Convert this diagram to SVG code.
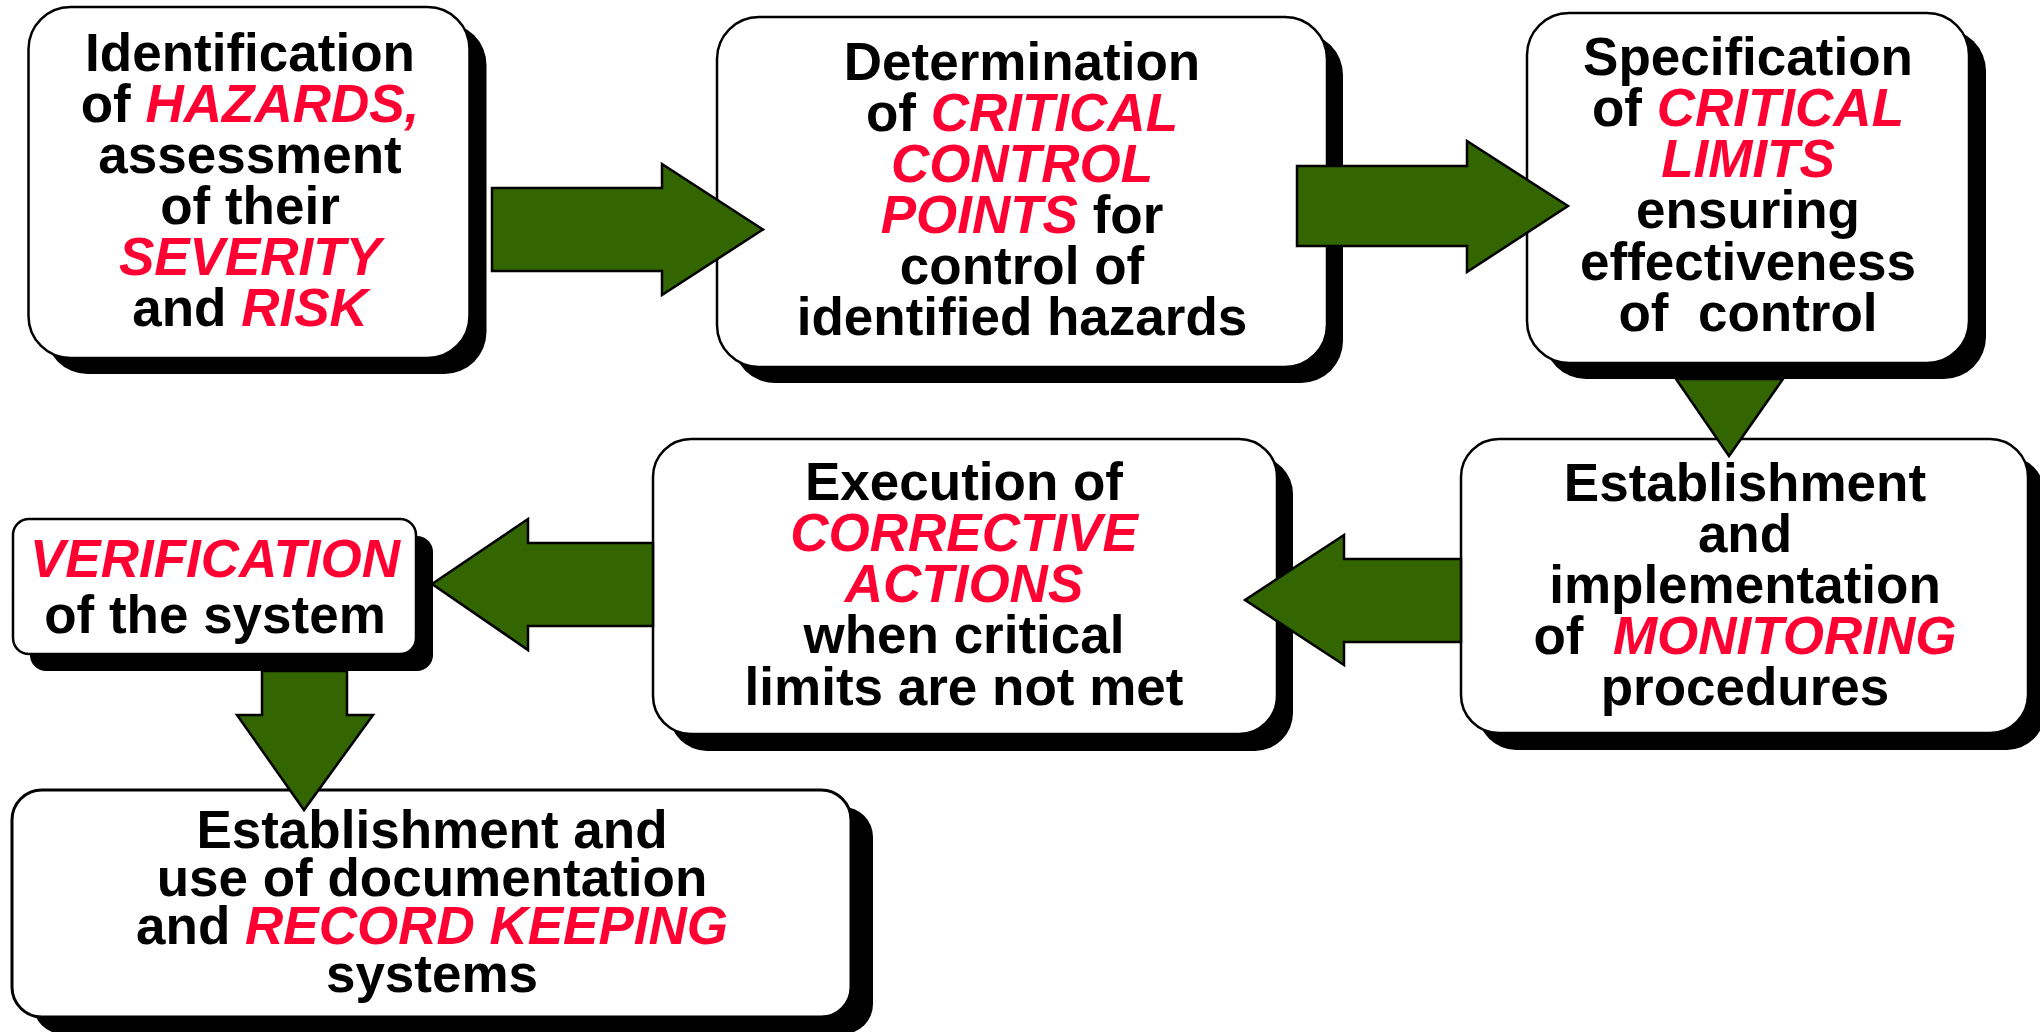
<svg xmlns="http://www.w3.org/2000/svg" width="2040" height="1032" viewBox="0 0 2040 1032">
  <style>
    .bg { fill: #ffffff; }
    .shadow { fill: #000000; }
    .box { fill: #ffffff; stroke: #000000; stroke-width: 2.5; }
    .t { font-family: "Liberation Sans", Arial, Helvetica, sans-serif; font-weight: bold; font-size: 53px; fill: #000000; text-anchor: middle; }
    .r { fill: #FF0033; font-style: italic; }
    .arrow { fill: #336600; stroke: #000000; stroke-width: 2.5; stroke-linejoin: miter; }
  </style>
  <rect class="bg" x="0" y="0" width="2040" height="1032"/>

  <g id="node-hazards">
    <rect class="shadow" x="45.5" y="23" width="441" height="351" rx="42"/>
    <rect class="box" x="28.5" y="7" width="441" height="351" rx="42"/>
    <text class="t"><tspan x="250" y="71">Identification</tspan><tspan x="250" y="122">of <tspan class="r">HAZARDS,</tspan></tspan><tspan x="250" y="173">assessment</tspan><tspan x="250" y="224">of their</tspan><tspan x="250" y="275" class="r">SEVERITY</tspan><tspan x="250" y="326">and <tspan class="r">RISK</tspan></tspan></text>
  </g>

  <g id="node-ccp">
    <rect class="shadow" x="733" y="33" width="610" height="350" rx="42"/>
    <rect class="box" x="717" y="17" width="610" height="350" rx="42"/>
    <text class="t"><tspan x="1022" y="80">Determination</tspan><tspan x="1022" y="131">of <tspan class="r">CRITICAL</tspan></tspan><tspan x="1022" y="182" class="r">CONTROL</tspan><tspan x="1022" y="233"><tspan class="r">POINTS</tspan> for</tspan><tspan x="1022" y="284">control of</tspan><tspan x="1022" y="335">identified hazards</tspan></text>
  </g>

  <g id="node-limits">
    <rect class="shadow" x="1544" y="29" width="442" height="350" rx="42"/>
    <rect class="box" x="1527" y="13" width="442" height="350" rx="42"/>
    <text class="t" xml:space="preserve"><tspan x="1748" y="75">Specification</tspan><tspan x="1748" y="126">of <tspan class="r">CRITICAL</tspan></tspan><tspan x="1748" y="177" class="r">LIMITS</tspan><tspan x="1748" y="228">ensuring</tspan><tspan x="1748" y="280">effectiveness</tspan><tspan x="1748" y="331">of  control</tspan></text>
  </g>

  <g id="node-monitoring">
    <rect class="shadow" x="1478" y="456" width="567" height="294" rx="38"/>
    <rect class="box" x="1461" y="439" width="567" height="294" rx="38"/>
    <text class="t" xml:space="preserve"><tspan x="1745" y="501">Establishment</tspan><tspan x="1745" y="552">and</tspan><tspan x="1745" y="603">implementation</tspan><tspan x="1745" y="654">of  <tspan class="r">MONITORING</tspan></tspan><tspan x="1745" y="705">procedures</tspan></text>
  </g>

  <g id="node-corrective">
    <rect class="shadow" x="669" y="456" width="624" height="295" rx="38"/>
    <rect class="box" x="653" y="439" width="624" height="295" rx="38"/>
    <text class="t"><tspan x="964" y="500">Execution of</tspan><tspan x="964" y="551" class="r">CORRECTIVE</tspan><tspan x="964" y="602" class="r">ACTIONS</tspan><tspan x="964" y="653">when critical</tspan><tspan x="964" y="705">limits are not met</tspan></text>
  </g>

  <g id="node-verification">
    <rect class="shadow" x="30" y="536" width="403" height="135" rx="16"/>
    <rect class="box" x="13" y="519" width="403" height="135" rx="16"/>
    <text class="t"><tspan x="215" y="577" class="r">VERIFICATION</tspan><tspan x="215" y="633">of the system</tspan></text>
  </g>

  <g id="node-records">
    <rect class="shadow" x="33" y="807" width="840" height="227" rx="30"/>
    <rect class="box" x="12" y="790" width="839" height="227" rx="30" style="stroke-width:3"/>
    <text class="t"><tspan x="432" y="848">Establishment and</tspan><tspan x="432" y="896">use of documentation</tspan><tspan x="432" y="944">and <tspan class="r">RECORD KEEPING</tspan></tspan><tspan x="432" y="992">systems</tspan></text>
  </g>

  <g id="connectors">
    <polygon class="arrow" points="492,188 662,188 662,164 763,229.5 662,295 662,271 492,271"/>
    <polygon class="arrow" points="1297,166 1467,166 1467,141 1568,206 1467,272 1467,246 1297,246"/>
    <polygon class="arrow" points="1676,379 1783,379 1729,456"/>
    <polygon class="arrow" points="1461,559 1344,559 1344,535 1245,600 1344,665 1344,642 1461,642"/>
    <polygon class="arrow" points="653,543 528,543 528,519 432,584 528,650 528,626 653,626"/>
    <polygon class="arrow" points="262,671 347,671 347,715 373,715 304,810 237,715 262,715"/>
  </g>
</svg>
